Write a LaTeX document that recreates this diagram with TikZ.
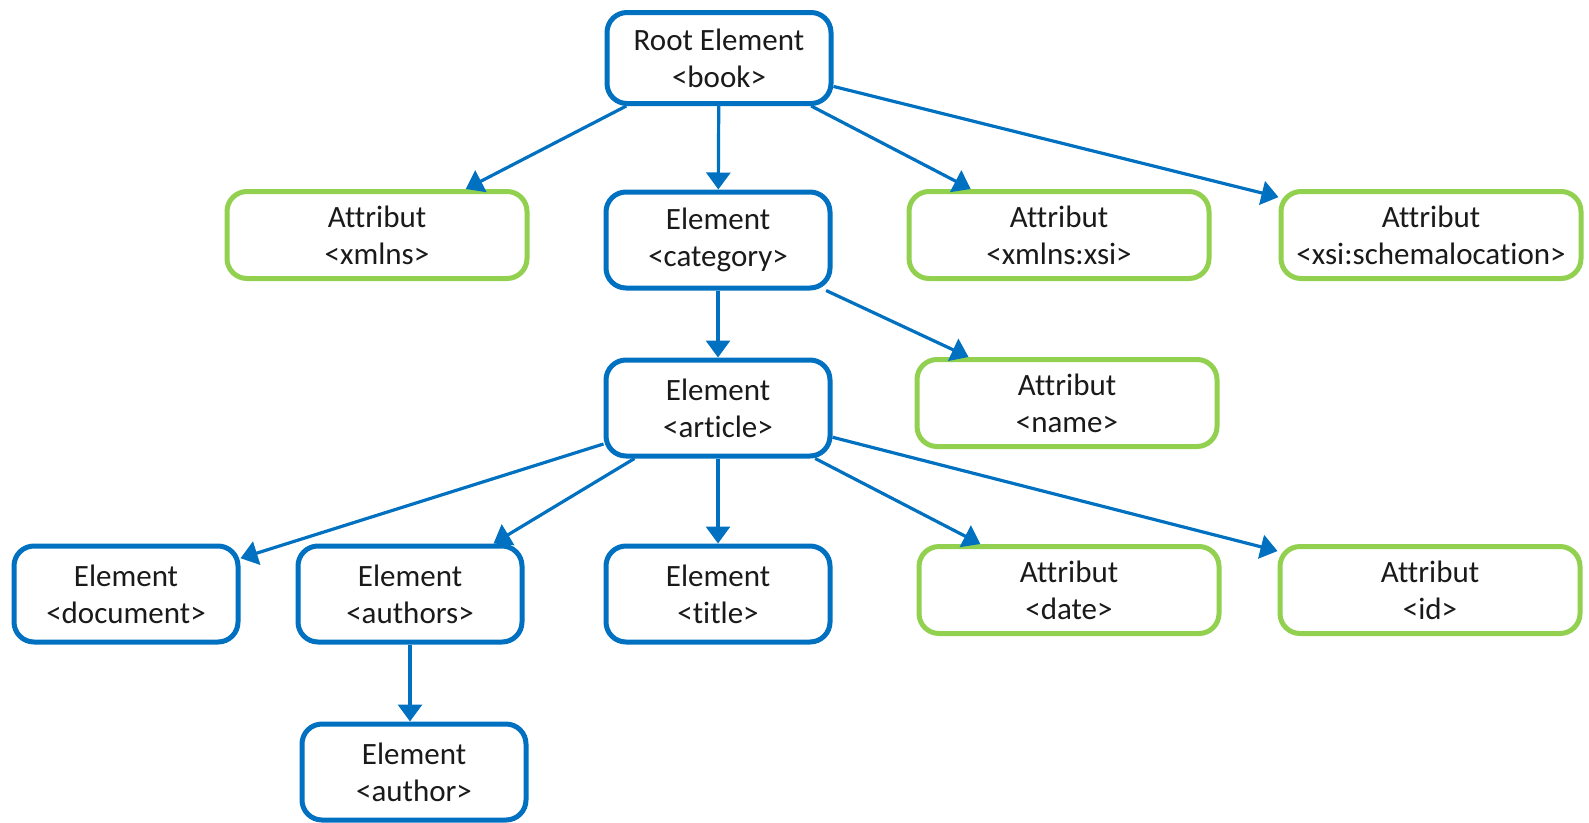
\documentclass[tikz,border=0pt]{standalone}
\usepackage{fontspec}
\setmainfont{Carlito}[Ligatures=NoCommon]
\usetikzlibrary{arrows.meta}
\definecolor{elemblue}{HTML}{0070C0}
\definecolor{attrgreen}{HTML}{92D050}
\definecolor{txt}{HTML}{1A1A1A}
\begin{document}
\begin{tikzpicture}[x=1pt,y=-1pt,
  box/.style={rounded corners=20pt, line width=5pt, fill=white, align=center,
    text=txt, font=\fontsize{31}{37}\selectfont, inner sep=0pt},
  elem/.style={box, draw=elemblue, minimum width=224pt, minimum height=96pt},
  attr/.style={box, draw=attrgreen, minimum width=300pt, minimum height=87pt},
  link/.style={draw=elemblue, line width=3.2pt,
    -{Triangle[length=17pt,width=24pt]}}]
\useasboundingbox (0,0) rectangle (1589,822);

% tree of elements and attributes
\node[elem, minimum height=91pt] (root) at (719,58) {Root Element\\<book>};
\node[attr] (xmlns)  at (377,235)  {Attribut\\<xmlns>};
\node[elem] (category) at (718,240) {Element\\<category>};
\node[attr] (xsi)    at (1059,235) {Attribut\\<xmlns:xsi>};
\node[attr] (schema) at (1431,235) {Attribut\\<xsi:schemalocation>};
\node[elem] (article) at (718,408) {Element\\<article>};
\node[attr] (name)   at (1067,403) {Attribut\\<name>};
\node[elem] (document) at (126,594) {Element\\<document>};
\node[elem] (authors)  at (410,594) {Element\\<authors>};
\node[elem] (title)    at (718,594) {Element\\<title>};
\node[attr] (date)   at (1069,590) {Attribut\\<date>};
\node[attr] (id)     at (1430,590) {Attribut\\<id>};
\node[elem] (author)   at (414,772) {Element\\<author>};

% parent-child connectors
\draw[link] (root) -- (xmlns);
\draw[link] (root) -- (category);
\draw[link] (root) -- (xsi);
\draw[link] (root) -- (schema);
\draw[link] (category) -- (article);
\draw[link] (category) -- (name);
\draw[link] (article) -- (document);
\draw[link] (article) -- (authors);
\draw[link] (article) -- (title);
\draw[link] (article) -- (date);
\draw[link] (article) -- (id);
\draw[link] (authors.south) -- (authors.south |- author.north);
\end{tikzpicture}
\end{document}
